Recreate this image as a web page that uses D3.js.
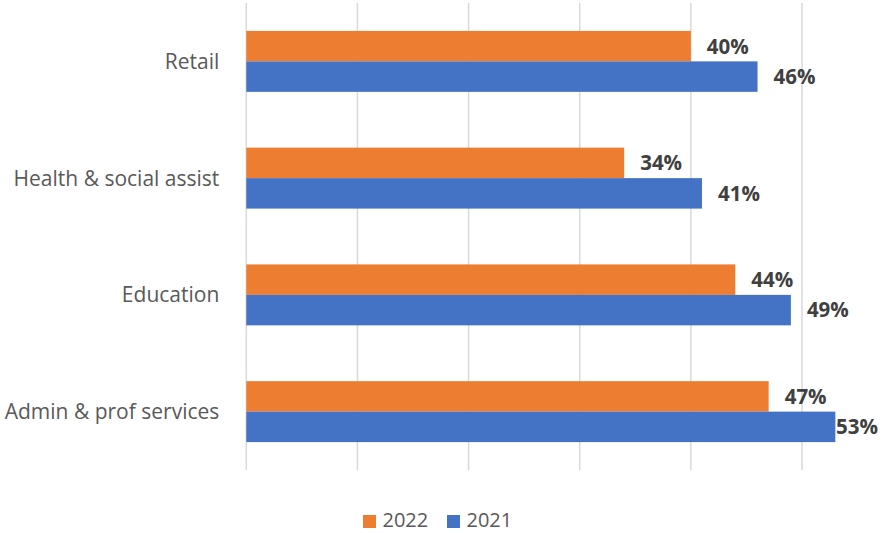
<!DOCTYPE html>
<html>
<head>
<meta charset="utf-8">
<script src="https://cdn.jsdelivr.net/npm/d3@7"></script>
<style>
  html, body { margin: 0; padding: 0; background: #fff; }
  svg { display: block; font-family: "Open Sans", "Liberation Sans", sans-serif; }
</style>
</head>
<body>
<svg id="chart" width="889" height="533"></svg>
<script>
// Sectors, top to bottom
const categories = ["Retail", "Health & social assist", "Education", "Admin & prof services"];
// Shares (%) per sector
const values2022 = [40, 34, 44, 47];
const values2021 = [46, 41, 49, 53];
const seriesNames = ["2022", "2021"];
const seriesColors = ["#ED7D31", "#4472C4"];
const gridTicks = [0, 10, 20, 30, 40, 50];

const svg = d3.select("#chart");
const W = 889, H = 533;
const plot = { left: 246.3, right: 802, top: 3, bottom: 470 };

const x = d3.scaleLinear().domain([0, 50]).range([plot.left, plot.right]);
const y = d3.scaleBand().domain(categories).range([plot.top, plot.bottom]).paddingInner(0.478).paddingOuter(0.239);
const ySeries = d3.scaleBand().domain(seriesNames).range([0, y.bandwidth()]);

// vertical gridlines
svg.append("g").selectAll("line").data(gridTicks).join("line")
  .attr("x1", d => x(d)).attr("x2", d => x(d))
  .attr("y1", plot.top).attr("y2", plot.bottom)
  .attr("stroke", "#d9d9d9").attr("stroke-width", 1.5);

const series = seriesNames.map((name, i) => ({
  name, color: seriesColors[i],
  values: categories.map((c, j) => ({ cat: c, v: (i === 0 ? values2022 : values2021)[j] }))
}));

const groups = svg.append("g").selectAll("g").data(series).join("g");
groups.selectAll("rect").data(s => s.values.map(v => ({ ...v, s }))).join("rect")
  .attr("x", x(0))
  .attr("y", d => y(d.cat) + ySeries(d.s.name))
  .attr("width", d => x(d.v) - x(0))
  .attr("height", ySeries.bandwidth())
  .attr("fill", d => d.s.color);

// value labels, kept inside the chart area
const labels = groups.selectAll("text").data(s => s.values.map(v => ({ ...v, s }))).join("text")
  .attr("y", d => y(d.cat) + ySeries(d.s.name) + ySeries.bandwidth() / 2)
  .attr("dy", "0.36em")
  .attr("font-size", 20.5).attr("font-weight", "bold").attr("fill", "#404040")
  .text(d => d.v + "%");
labels.each(function(d) {
  const w = this.getComputedTextLength();
  let lx = x(d.v) + 16;
  if (lx + w > W - 11) lx = W - 11 - w;
  d3.select(this).attr("x", lx);
});

// category labels
const yAxis = d3.axisLeft(y).tickSize(0).tickPadding(0);
const ya = svg.append("g").attr("transform", `translate(${plot.left - 27},0)`).call(yAxis);
ya.select(".domain").remove();
ya.selectAll("text").attr("font-size", 21).attr("fill", "#595959").attr("dy", "0.36em")
  .attr("font-family", "'Open Sans', 'Liberation Sans', sans-serif");

// legend
const legend = svg.append("g").attr("transform", "translate(363,521.5)");
const lg = legend.selectAll("g").data(series).join("g")
  .attr("transform", (d, i) => `translate(${i * 84},0)`);
lg.append("rect").attr("x", 0).attr("y", -6.5).attr("width", 13).attr("height", 13).attr("fill", d => d.color);
lg.append("text").attr("x", 19.5).attr("y", 5.5).attr("font-size", 20).attr("fill", "#595959").text(d => d.name);
</script>
</body>
</html>
